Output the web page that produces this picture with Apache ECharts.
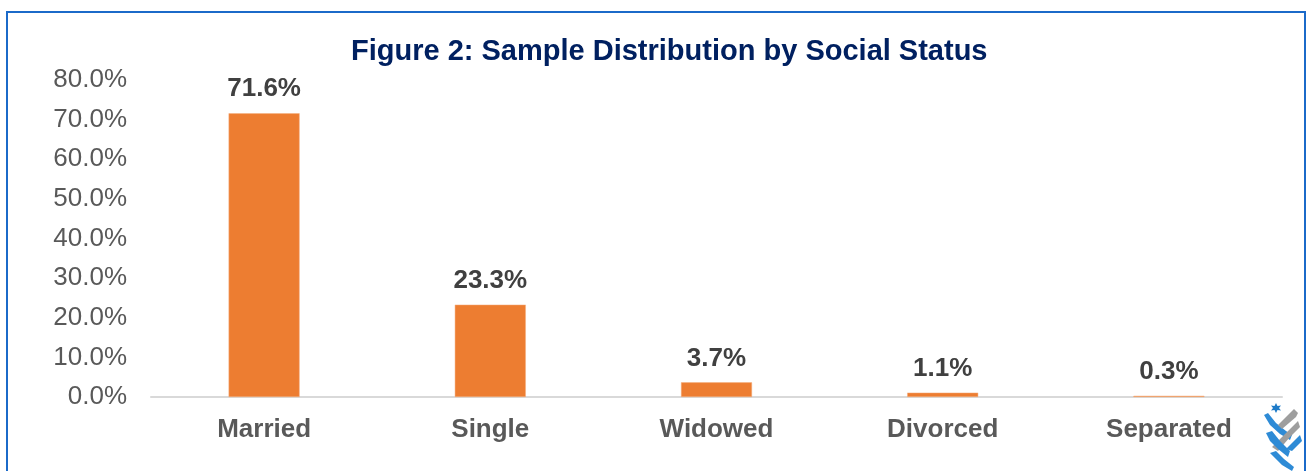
<!DOCTYPE html>
<html><head><meta charset="utf-8">
<script src="https://cdn.jsdelivr.net/npm/echarts@6/dist/echarts.min.js"></script>
<style>html,body{margin:0;padding:0;background:#fff}#c{width:1309px;height:471px}</style>
</head><body><div id="c"></div>
<script>
var categories = ['Married', 'Single', 'Widowed', 'Divorced', 'Separated'];
var values = [71.6, 23.3, 3.7, 1.1, 0.3];
var titleText = 'Figure 2: Sample Distribution by Social Status';

var FONT = 'Liberation Sans, Arial, sans-serif';
var chart = echarts.init(document.getElementById('c'));
chart.setOption({
  backgroundColor: '#fff',
  animation: false,
  title: {
    text: titleText, left: 346, top: 32,
    textStyle: {fontFamily: FONT, fontSize: 29, fontWeight: 'bold', color: '#002060'}
  },
  grid: {left: 151, right: 27, top: 80, bottom: 74},
  xAxis: {
    type: 'category', data: categories,
    axisLine: {lineStyle: {color: '#d9d9d9', width: 2}},
    axisTick: {show: false},
    axisLabel: {fontFamily: FONT, fontSize: 26, fontWeight: 'bold', color: '#595959', margin: 20}
  },
  yAxis: {
    type: 'value', min: 0, max: 80, interval: 10,
    splitLine: {show: false},
    axisLine: {show: false}, axisTick: {show: false},
    axisLabel: {fontFamily: FONT, fontSize: 26, color: '#595959', margin: 24,
      formatter: function (v) { return v.toFixed(1) + '%'; }}
  },
  series: [{
    type: 'bar', data: values, barWidth: 71,
    itemStyle: {color: '#ED7D31', borderColor: '#F4B183', borderWidth: 0.5},
    label: {show: true, position: 'top', distance: 11,
      fontFamily: FONT, fontSize: 26, fontWeight: 'bold', color: '#404040',
      formatter: function (p) { return p.value.toFixed(1) + '%'; }}
  }],
  graphic: [
    {type: 'rect', shape: {x: 7, y: 12, width: 1298, height: 470}, style: {fill: 'none', stroke: '#1B6AC9', lineWidth: 2}, silent: true},
    {type: 'group', x: 1262, y: 403, silent: true, children: [
      {type: 'polygon', shape: {points: [[14,0],[15.5,3],[19,2.5],[17,5],[19,7.5],[15.5,7],[14,10],[12.5,7],[9,7.5],[11,5],[9,2.5],[12.5,3]]}, style: {fill: '#1E7BC8'}},
      {type: 'polygon', shape: {points: [[2,12],[6,10],[14,20],[24,28],[30,32],[28,37],[18,31],[8,22]]}, style: {fill: '#2E8BD6'}},
      {type: 'polygon', shape: {points: [[32,6],[36,10],[34,14],[20,26],[16,22]]}, style: {fill: '#9E9E9E'}},
      {type: 'polygon', shape: {points: [[36,18],[38,24],[28,34],[16,48],[10,44],[22,32]]}, style: {fill: '#9E9E9E'}},
      {type: 'polygon', shape: {points: [[4,30],[10,28],[18,38],[28,48],[26,54],[16,46],[8,38]]}, style: {fill: '#2E8BD6'}},
      {type: 'polygon', shape: {points: [[38,32],[40,38],[30,48],[24,46]]}, style: {fill: '#2E8BD6'}},
      {type: 'polygon', shape: {points: [[8,50],[14,48],[22,56],[32,64],[30,68],[20,62]]}, style: {fill: '#2E8BD6'}}
    ]}
  ]
});
</script></body></html>
